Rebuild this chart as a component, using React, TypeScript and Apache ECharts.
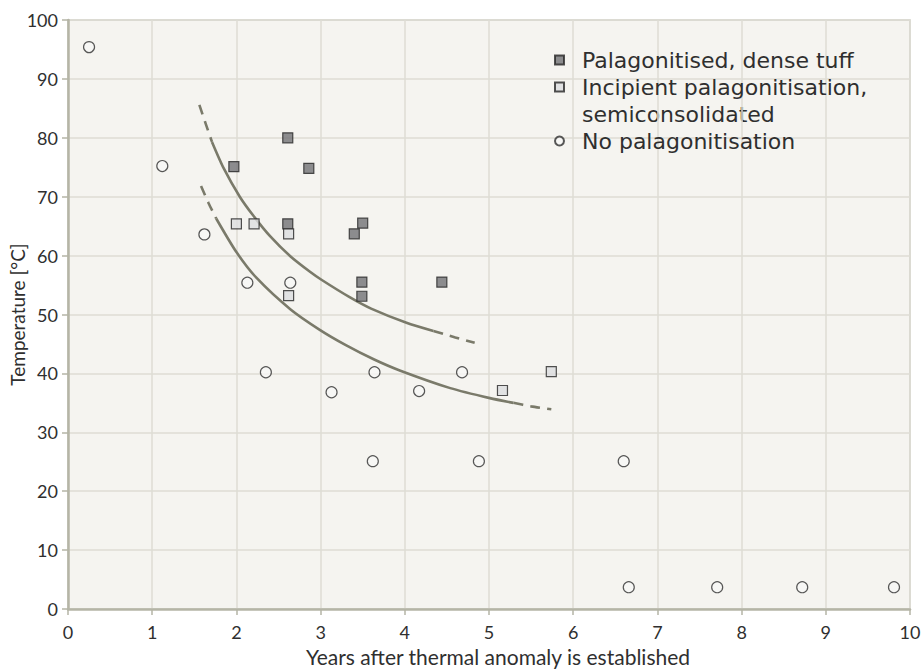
import React, { useEffect, useRef } from "react";
import * as echarts from "echarts";

// Palagonitised, dense tuff [years, °C]
const denseTuff: [number, number][] = [
  [1.97, 75.1], [2.61, 80.0], [2.86, 74.8], [2.61, 65.4], [3.5, 65.5],
  [3.4, 63.7], [3.49, 55.5], [3.49, 53.1], [4.44, 55.5],
];
// Incipient palagonitisation, semiconsolidated
const incipient: [number, number][] = [
  [2.0, 65.4], [2.21, 65.4], [2.62, 63.7], [2.62, 53.2], [5.16, 37.1], [5.74, 40.3],
];
// No palagonitisation
const noPalag: [number, number][] = [
  [0.25, 95.4], [1.12, 75.2], [1.62, 63.6], [2.13, 55.4], [2.64, 55.4],
  [2.35, 40.2], [3.13, 36.8], [3.64, 40.2], [3.62, 25.1], [4.17, 37.0],
  [4.68, 40.2], [4.88, 25.1], [6.6, 25.1], [6.66, 3.7], [7.71, 3.7],
  [8.72, 3.7], [9.81, 3.7],
];
// Trend curves
const upperDashStart: [number, number][] = [[1.56, 85.6], [1.64, 82.2], [1.71, 79.3]];
const upperSolid: [number, number][] = [
  [1.71, 79.3], [1.85, 74.8], [2.04, 70.0], [2.2, 66.8], [2.4, 63.3], [2.64, 59.9],
  [2.87, 57.3], [3.01, 55.9], [3.35, 52.9], [3.6, 51.0], [4.02, 48.6], [4.34, 47.2],
];
const upperDashEnd: [number, number][] = [[4.34, 47.2], [4.6, 46.1], [4.83, 45.2]];
const lowerDashStart: [number, number][] = [[1.58, 71.8], [1.67, 68.9], [1.76, 66.3]];
const lowerSolid: [number, number][] = [
  [1.76, 66.3], [2.0, 60.6], [2.24, 56.2], [2.64, 50.9], [2.99, 47.4], [3.3, 44.8],
  [3.63, 42.4], [3.94, 40.5], [4.54, 37.5], [5.01, 35.8], [5.29, 35.0],
];
const lowerDashEnd: [number, number][] = [[5.29, 35.0], [5.5, 34.4], [5.74, 33.9]];

const xTicks = { min: 0, max: 10, interval: 1 };
const yTicks = { min: 0, max: 100, interval: 10 };

const NAME_DENSE = "Palagonitised, dense tuff";
const NAME_INC = "Incipient palagonitisation,";
const NAME_INC_2 = "semiconsolidated";
const NAME_NO = "No palagonitisation";

export default function App() {
  const ref = useRef<HTMLDivElement>(null);
  useEffect(() => {
    if (!ref.current) return;
    const chart = echarts.init(ref.current, undefined, { renderer: "svg" });
    const font = "Lato, 'Open Sans', sans-serif";
    const legendFont = "'DejaVu Sans', 'Open Sans', sans-serif";
    const axisColor = "#b5b5a6";
    const curveColor = "#7a7a6a";
    const lineSeries = (data: [number, number][], dashed: boolean) => ({
      type: "line",
      data,
      smooth: 0.25,
      showSymbol: false,
      silent: true,
      z: 1,
      lineStyle: { color: curveColor, width: 2.6, type: dashed ? [10, 7] : "solid" },
    });
    const legendBase = {
      orient: "vertical",
      left: 554,
      padding: 0,
      itemWidth: 9,
      itemHeight: 9,
      selectedMode: false,
      textStyle: { fontFamily: legendFont, fontSize: 22, color: "#2f2f2f", padding: [0, 0, 0, 13], lineHeight: 26 },
    };
    chart.setOption({
      animation: false,
      backgroundColor: "#ffffff",
      grid: {
        left: 68, right: 11, top: 20, bottom: 63,
        containLabel: false, outerBoundsMode: "none",
        show: true, backgroundColor: "#f5f4f0", borderColor: "#c9c9bd", borderWidth: 1.5,
      },
      legend: [
        { ...legendBase, top: 47, data: [NAME_DENSE] },
        { ...legendBase, top: 74, data: [NAME_INC] },
        { ...legendBase, top: 128, data: [NAME_NO] },
      ],
      graphic: [
        {
          type: "text", left: 582, top: 101,
          style: { text: NAME_INC_2, fontFamily: legendFont, fontSize: 22, fill: "#2f2f2f", lineHeight: 26 },
        },
      ],
      xAxis: {
        type: "value", ...xTicks,
        name: "Years after thermal anomaly is established",
        nameLocation: "middle", nameGap: 37, nameMoveOverlap: false,
        nameTextStyle: { fontFamily: font, fontSize: 21, color: "#2f2f2f", padding: [0, 0, 0, 18] },
        axisLine: { show: true, lineStyle: { color: axisColor, width: 2.5 } },
        axisTick: { show: true, length: 6, lineStyle: { color: axisColor, width: 1.5 } },
        axisLabel: { margin: 14, fontFamily: font, fontSize: 18, color: "#2f2f2f" },
        splitLine: { show: true, lineStyle: { color: "#dedcd5", width: 1.5 } },
      },
      yAxis: {
        type: "value", ...yTicks,
        name: "Temperature [°C]",
        nameLocation: "middle", nameGap: 41, nameMoveOverlap: false,
        nameTextStyle: { fontFamily: font, fontSize: 19, color: "#2f2f2f" },
        axisLine: { show: true, lineStyle: { color: axisColor, width: 2.5 } },
        axisTick: { show: true, length: 6, lineStyle: { color: axisColor, width: 1.5 } },
        axisLabel: { margin: 10, fontFamily: font, fontSize: 18, color: "#2f2f2f" },
        splitLine: { show: true, lineStyle: { color: "#dedcd5", width: 1.5 } },
      },
      series: [
        lineSeries(upperDashStart, true),
        lineSeries(upperSolid, false),
        lineSeries(upperDashEnd, true),
        lineSeries(lowerDashStart, true),
        lineSeries(lowerSolid, false),
        lineSeries(lowerDashEnd, true),
        {
          name: NAME_NO, type: "scatter", data: noPalag, symbol: "circle", symbolSize: 11, z: 3,
          itemStyle: { color: "#f8f8f6", borderColor: "#2e2e2e", borderWidth: 1.2 },
        },
        {
          name: NAME_DENSE, type: "scatter", data: denseTuff, symbol: "rect", symbolSize: 10, z: 3,
          itemStyle: { color: "#727276", borderColor: "#262626", borderWidth: 1.2 },
        },
        {
          name: NAME_INC, type: "scatter", data: incipient, symbol: "rect", symbolSize: 10, z: 3,
          itemStyle: { color: "#dcdde0", borderColor: "#262626", borderWidth: 1.2 },
        },
      ],
    });
    return () => chart.dispose();
  }, []);
  return <div ref={ref} style={{ width: 921, height: 672, position: "absolute", left: 0, top: 0 }} />;
}
